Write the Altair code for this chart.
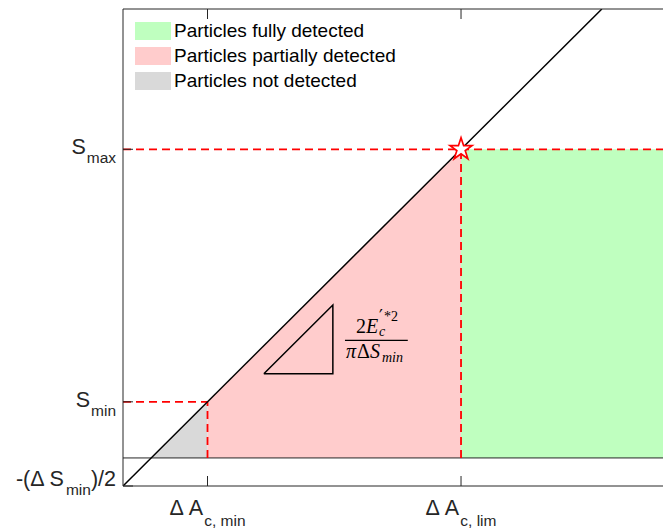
import math
import altair as alt
import pandas as pd

# ---------------- data ----------------
categories = ["Particles fully detected", "Particles partially detected", "Particles not detected"]
cat_colors = ["#bfffbf", "#ffcccc", "#d9d9d9"]

x_domain = [-1, 18.17]
y_domain = [-1, 16]

# detection regions (x, upper edge, lower edge)
region_cat = [categories[2], categories[2], categories[1], categories[1], categories[0], categories[0]]
region_x = [0, 2, 2, 11, 11, 18.17]
region_top = [0, 2, 2, 11, 11, 11]
region_base = [0, 0, 0, 0, 0, 0]

zero_level = [0]

# diagonal S = f(dA)
line_x = [-1, 16]
line_y = [-1, 16]

# red dashed guides
dash_x = [-1, 2, -1, 11]
dash_x2 = [2, 2, 18.17, 11]
dash_y = [2, 0, 11, 0]
dash_y2 = [2, 2, 11, 11]

# limit point
star_x = [11]
star_y = [11]

# slope triangle
tri_x = [4, 6.45, 6.45, 4]
tri_y = [3, 3, 5.45, 3]
tri_order = [0, 1, 2, 3]

# fraction annotation anchor (left end of fraction bar) and bar end
frac_x = [6.88]
frac_x2 = [9.11]
frac_y = [4.19]

# ticks & tick labels
xtick_values = [2, 11]
xtick_main = ["Δ A", "Δ A"]
xtick_sub = ["c, min", "c, lim"]

ytick_values = [11, 2, -1]
ytick_main = ["S", "S", "-(Δ S"]
ytick_sub = ["max", "min", "min"]
ytick_tail = ["", "", ")/2"]

# ---------------- helpers ----------------
SANS = "Liberation Sans"
SERIF = "Liberation Serif"
AX = "#262626"
MAIN = 21.5
SUB = 15.5

ARIAL = {'S': .667, 'm': .833, 'a': .556, 'x': .5, 'i': .222, 'n': .556, '-': .333,
         '(': .333, ')': .333, '/': .278, '2': .556, ' ': .278, 'Δ': .668, 'A': .667,
         'c': .5, ',': .278, 'l': .222}


def tw(s, size):
    return sum(ARIAL.get(ch, .556) for ch in s) * size


xs = alt.Scale(domain=x_domain, nice=False, zero=False)
ys = alt.Scale(domain=y_domain, nice=False, zero=False)


def X(f):
    return alt.X(f, type="quantitative", scale=xs, axis=None)


def Y(f):
    return alt.Y(f, type="quantitative", scale=ys, axis=None)


# ---------------- layers ----------------
reg = pd.DataFrame({"cat": region_cat, "x": region_x, "top": region_top, "base": region_base})
areas = alt.Chart(reg).mark_area(opacity=1).encode(
    x=X("x"),
    y=alt.Y("top", type="quantitative", scale=ys, axis=None, stack=None),
    y2="base",
    fill=alt.Fill(
        "cat:N",
        scale=alt.Scale(domain=categories, range=cat_colors),
        legend=alt.Legend(
            orient="none", legendX=12, legendY=13, title=None,
            symbolType="M-1,-0.5H1V0.5H-1Z", symbolSize=1296, symbolStrokeWidth=0,
            symbolOpacity=1, labelFont=SANS, labelFontSize=19, labelColor="black",
            labelLimit=500, rowPadding=6, padding=0, labelOffset=3, clipHeight=18,
        ),
    ),
    detail="cat:N",
)

zero = alt.Chart(pd.DataFrame({"y": zero_level})).mark_rule(color=AX, strokeWidth=1).encode(y=Y("y"))

dash = alt.Chart(pd.DataFrame({"x": dash_x, "x2": dash_x2, "y": dash_y, "y2": dash_y2})).mark_rule(
    color="#ff0000", strokeWidth=1.8, strokeDash=[8, 5]
).encode(x=X("x"), x2="x2", y=Y("y"), y2="y2")

diag = alt.Chart(pd.DataFrame({"x": line_x, "y": line_y})).mark_line(
    color="black", strokeWidth=1.5, clip=True
).encode(x=X("x"), y=Y("y"))

tri = alt.Chart(pd.DataFrame({"x": tri_x, "y": tri_y, "o": tri_order})).mark_line(
    color="black", strokeWidth=1.5
).encode(x=X("x"), y=Y("y"), order="o:Q")

# star
pts = []
for k in range(10):
    r = 1 if k % 2 == 0 else 0.382
    ang = math.radians(-90 + 36 * k)
    pts.append((r * math.cos(ang), r * math.sin(ang)))
star_path = "M" + "L".join(f"{a:.3f},{b:.3f}" for a, b in pts) + "Z"
star = alt.Chart(pd.DataFrame({"x": star_x, "y": star_y})).mark_point(
    shape=star_path, size=538, filled=True, fill="white", stroke="#ff0000",
    strokeWidth=1.7, opacity=1
).encode(x=X("x"), y=Y("y"))

# fraction annotation
fdf = pd.DataFrame({"x": frac_x, "x2": frac_x2, "y": frac_y})
frac_bar = alt.Chart(fdf).mark_rule(color="black", strokeWidth=1.3).encode(x=X("x"), x2="x2", y=Y("y"))


def ftext(t, size, dx, dy, style="italic", font=SERIF):
    return alt.Chart(fdf).mark_text(
        text=t, font=font, fontSize=size, fontStyle=style, dx=dx, dy=dy,
        align="left", baseline="alphabetic", color="black"
    ).encode(x=X("x"), y=Y("y"))


frac_layers = [
    ftext("2", 20, 11, -7.5, "normal"),
    ftext("E", 20, 21, -7.5),
    ftext("′", 17, 34, -18, "normal", "DejaVu Sans"),
    ftext("*2", 14, 39, -19, "normal"),
    ftext("c", 14, 34, -4.5),
    ftext("π", 20, 1, 17.5),
    ftext("Δ", 20, 12, 17.5, "normal"),
    ftext("S", 20, 25, 17.5),
    ftext("min", 14, 37, 22),
]

# ticks (inward, 10 px)
xt = pd.DataFrame({"x": xtick_values, "yb": [y_domain[0]] * len(xtick_values),
                   "yt": [y_domain[1]] * len(xtick_values)})
xt_bottom = alt.Chart(xt).mark_rule(color=AX, strokeWidth=1, y2Offset=-10).encode(
    x=X("x"), y=Y("yb"), y2="yb")
xt_top = alt.Chart(xt).mark_rule(color=AX, strokeWidth=1, y2Offset=10).encode(
    x=X("x"), y=Y("yt"), y2="yt")
yt = pd.DataFrame({"y": ytick_values, "xl": [x_domain[0]] * len(ytick_values)})
yt_left = alt.Chart(yt).mark_rule(color=AX, strokeWidth=1, x2Offset=10).encode(
    x=X("xl"), x2="xl", y=Y("y"))

# frame (left, top, bottom)
frame_top = alt.Chart(pd.DataFrame({"y": [y_domain[1]]})).mark_rule(color=AX, strokeWidth=1).encode(y=Y("y"))
frame_bottom = alt.Chart(pd.DataFrame({"y": [y_domain[0]]})).mark_rule(color=AX, strokeWidth=1).encode(y=Y("y"))
frame_left = alt.Chart(pd.DataFrame({"x": [x_domain[0]]})).mark_rule(color=AX, strokeWidth=1).encode(x=X("x"))


def label(df, t, size, dx, dy):
    return alt.Chart(df).mark_text(
        text=t, font=SANS, fontSize=size, dx=dx, dy=dy, align="left",
        baseline="alphabetic", color=AX
    ).encode(x=X("x"), y=Y("y"))


label_layers = []
for v, m, s, t in zip(ytick_values, ytick_main, ytick_sub, ytick_tail):
    df = pd.DataFrame({"x": [x_domain[0]], "y": [v]})
    gap = 1
    total = tw(m, MAIN) + gap + tw(s, SUB) + tw(t, MAIN)
    start = -7 - total
    lift = -5 if v == y_domain[0] else 0
    label_layers.append(label(df, m, MAIN, start, 5 + lift))
    label_layers.append(label(df, s, SUB, start + tw(m, MAIN) + gap, 14 + lift))
    if t:
        label_layers.append(label(df, t, MAIN, start + tw(m, MAIN) + gap + tw(s, SUB), 5 + lift))

for v, m, s in zip(xtick_values, xtick_main, xtick_sub):
    df = pd.DataFrame({"x": [v], "y": [y_domain[0]]})
    total = tw(m, MAIN) + tw(s, SUB)
    start = -total / 2
    label_layers.append(label(df, m, MAIN, start, 29))
    label_layers.append(label(df, s, SUB, start + tw(m, MAIN), 40))

chart = alt.layer(
    areas, zero, dash, diag, tri, frac_bar, *frac_layers, star,
    xt_bottom, xt_top, yt_left, frame_top, frame_bottom, frame_left, *label_layers
).properties(
    width=540, height=477,
    padding={"left": 115, "top": 1, "right": 0, "bottom": 43},
    autosize=alt.AutoSizeParams(type="none"),
).configure_view(stroke=None)

chart.save("out.html", embed_options={"renderer": "svg", "actions": False})
